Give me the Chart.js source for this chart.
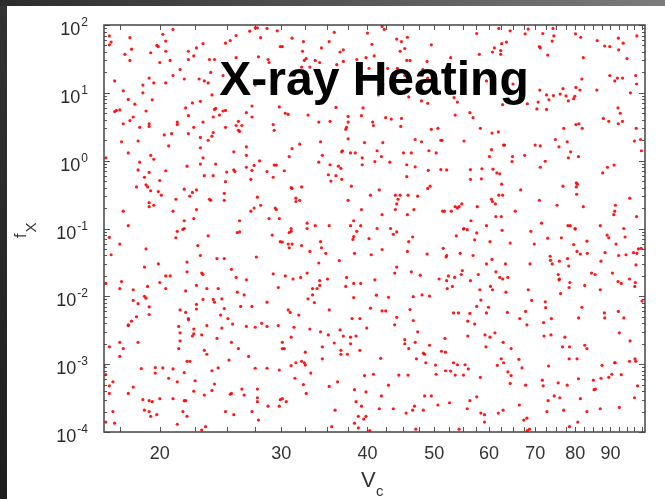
<!DOCTYPE html>
<html>
<head>
<meta charset="utf-8">
<script src="https://cdn.jsdelivr.net/npm/chart.js@4"></script>
<style>
  html, body { margin: 0; padding: 0; background: #fff; }
  #grafico { display: block; }
</style>
</head>
<body>
<canvas id="grafico" width="665" height="499"></canvas>
<script>
//---------------------- Dados -------------------------------------------------

// V_c de cada ponto
const vcValues = [
  // fx 10^-1 .. 10^2, V_c 16.6 .. 30
  20.9,16.9,17.0,16.9,18.1,20.2,20.4,19.8,19.9,18.2,
  20.4,17.8,19.4,18.1,20.0,20.7,22.0,22.4,22.6,22.0,
  23.1,23.6,24.0,24.9,25.3,25.8,27.0,27.5,27.7,28.6,
  29.6,28.0,29.9,27.8,28.7,28.8,25.8,21.4,20.9,21.7,
  19.3,19.6,18.9,18.9,20.4,22.8,23.2,23.5,23.7,24.7,
  17.2,17.7,23.8,18.0,18.4,17.2,17.3,17.5,19.1,17.7,
  18.1,18.3,18.7,19.3,19.3,19.5,21.2,21.2,21.8,22.0,
  22.3,22.9,22.4,23.1,20.3,20.8,22.0,22.9,23.9,23.8,
  23.5,24.0,23.9,24.4,24.1,24.7,24.9,24.9,25.8,26.0,
  26.3,26.0,26.1,26.7,27.2,27.2,29.2,29.3,29.8,17.6,
  18.6,18.0,20.6,22.9,25.6,26.7,26.7,19.4,19.6,16.7,
  18.7,18.6,19.3,20.4,19.0,19.1,19.2,18.5,19.4,20.0,
  19.9,20.1,21.9,23.1,22.9,24.1,23.2,23.9,25.0,25.6,
  25.7,24.9,26.7,27.4,27.9,27.2,28.6,29.3,29.5,29.2,
  27.1,21.7,22.6,22.3,22.1,21.1,23.6,23.7,24.8,24.8,
  19.3,19.3,19.6,17.7,20.9,22.6,21.7,22.4,18.0,21.7,
  26.1,27.1,27.4,28.0,27.7,29.4,29.5,28.8,29.8,27.5,
  // fx 10^-1 .. 10^2, V_c 30 .. 50
  35.8,40.0,42.0,42.3,31.1,32.3,35.2,34.3,32.2,36.9,
  36.5,44.1,44.8,45.7,45.3,44.6,40.6,49.5,30.1,32.6,
  32.4,33.6,34.1,39.8,40.9,38.6,36.9,36.1,45.6,46.1,
  48.8,32.1,33.0,40.2,42.8,44.2,48.1,45.3,45.9,48.9,
  42.1,41.5,45.9,47.9,48.9,36.0,39.4,30.4,30.7,32.8,
  37.5,39.2,42.5,43.3,44.8,34.0,35.3,37.5,40.7,40.8,
  37.3,37.2,44.7,49.5,37.5,31.9,34.2,39.6,42.1,46.9,
  47.9,31.1,36.7,36.8,37.8,38.4,41.3,45.1,46.3,49.1,
  30.8,34.4,34.0,35.3,36.3,36.6,39.3,39.3,41.9,41.0,
  43.1,45.6,46.9,30.3,35.1,36.0,35.4,36.7,45.6,49.0,
  32.1,31.0,31.1,37.9,41.6,48.9,49.3,31.5,31.9,31.5,
  37.5,40.4,43.9,44.6,44.3,44.1,43.9,45.8,47.3,39.2,
  46.7,42.0,45.7,38.2,37.8,39.1,32.7,32.7,33.6,35.2,
  31.0,41.3,43.2,
  // fx 10^-1 .. 10^2, V_c 50 .. 100
  57.6,62.0,64.4,67.7,68.4,71.8,74.3,74.5,74.1,80.1,
  81.5,86.1,92.4,93.9,98.3,88.3,89.8,92.5,95.1,71.0,
  71.2,73.0,63.6,62.6,61.1,62.4,60.7,62.4,58.1,52.8,
  82.2,59.5,81.8,89.8,91.3,92.1,93.7,97.9,98.2,96.2,
  86.0,65.0,71.1,72.7,74.4,76.1,76.8,77.6,78.2,79.6,
  80.2,81.3,79.9,73.3,70.7,68.2,70.4,72.7,62.8,53.4,
  54.0,56.3,56.9,53.6,92.3,93.0,87.9,89.5,93.7,92.4,
  50.6,58.3,60.6,61.9,77.0,80.2,81.0,81.9,98.1,51.1,
  51.3,55.2,63.0,63.2,60.5,60.1,70.0,71.2,74.9,75.8,
  77.9,78.8,78.2,67.6,64.9,64.8,72.4,80.9,97.5,99.5,
  99.8,50.3,51.1,52.1,56.4,58.6,60.8,61.6,62.2,56.4,
  58.5,62.6,66.7,71.2,76.8,80.3,80.6,80.3,80.4,87.7,
  89.1,91.1,62.0,62.8,60.5,60.7,61.3,71.0,75.3,82.2,
  91.5,91.3,91.0,96.0,53.6,54.3,54.0,54.8,51.4,51.7,
  52.9,57.7,65.5,61.4,62.5,56.5,59.5,71.5,78.1,78.7,
  87.0,94.1,98.2,80.0,55.2,
  // fx 10^-4 .. 10^-1, V_c 16.6 .. 30
  16.9,17.5,17.0,21.2,21.1,21.6,23.5,25.9,26.1,29.1,
  29.9,19.1,22.7,22.9,19.9,19.0,21.9,21.9,23.0,23.1,
  24.2,24.8,25.4,27.6,29.2,25.8,26.7,20.4,20.7,20.0,
  17.6,17.5,18.3,19.2,20.4,21.8,22.6,23.4,24.3,25.9,
  26.5,29.7,16.7,18.3,18.6,19.0,19.1,19.3,19.3,18.5,
  18.2,18.0,18.0,21.4,21.8,22.0,22.0,22.6,22.6,23.1,
  23.9,24.0,24.6,24.8,24.5,25.1,25.5,24.6,23.4,21.3,
  22.4,22.4,22.3,23.0,21.4,24.2,26.2,27.2,28.6,29.7,
  28.6,28.1,27.5,26.7,16.9,17.5,17.7,17.5,18.6,21.3,
  21.4,23.2,23.4,25.4,26.0,26.9,25.2,21.9,22.1,16.6,
  18.8,19.7,19.7,20.2,20.9,21.7,23.8,24.3,27.5,28.6,
  29.8,16.7,17.1,16.9,16.9,18.3,18.0,20.6,21.2,22.5,
  22.4,23.2,23.8,24.0,25.3,25.4,26.3,26.5,27.7,27.7,
  27.7,29.9,18.9,19.3,19.5,20.0,20.9,21.7,21.8,19.0,
  19.3,19.4,19.8,21.6,21.9,17.1,17.2,16.7,21.2,23.0,
  23.3,24.9,25.6,27.2,27.8,28.7,29.8,
  // fx 10^-4 .. 10^-1, V_c 30 .. 50
  30.8,31.0,30.1,30.7,30.8,31.1,32.1,34.2,34.3,33.0,
  34.8,34.0,36.4,38.6,38.2,38.1,40.2,38.3,40.5,42.0,
  43.6,44.1,46.5,45.9,45.7,48.8,44.1,43.8,46.3,47.7,
  30.4,31.2,32.0,32.7,34.1,35.0,37.3,39.1,38.2,37.2,
  41.0,34.1,33.8,33.3,33.3,32.8,33.5,38.2,41.2,42.9,
  46.6,48.0,49.2,40.4,42.0,42.5,46.1,35.2,30.7,30.9,
  31.8,38.0,39.0,44.1,46.6,43.8,39.9,36.5,31.3,33.0,
  31.0,34.2,35.1,35.8,36.9,37.8,38.5,37.8,47.3,45.3,
  45.3,46.9,45.9,49.2,30.1,30.1,30.3,34.4,36.6,36.6,
  37.4,39.0,32.5,31.5,32.4,32.1,31.0,32.5,34.4,41.8,
  47.1,48.4,48.2,48.6,33.1,31.4,39.6,40.8,44.4,45.8,
  32.3,32.6,35.2,36.2,42.9,38.3,39.8,41.9,49.5,48.4,
  30.1,30.5,38.5,39.2,41.6,43.6,45.5,46.5,46.8,48.2,
  35.9,38.8,39.5,39.8,38.3,38.8,35.5,40.3,47.0,
  // fx 10^-4 .. 10^-1, V_c 50 .. 100
  55.1,55.8,53.8,57.6,57.2,62.7,69.0,60.2,64.4,69.8,
  73.0,76.4,80.0,89.0,89.5,94.5,83.2,79.6,80.5,81.4,
  83.3,88.4,91.7,92.5,94.8,97.2,98.8,98.3,99.7,51.5,
  52.1,52.0,54.5,56.9,60.6,59.5,63.4,68.8,73.6,73.7,
  74.1,75.9,78.0,78.3,87.2,98.0,50.8,52.4,52.1,53.5,
  52.2,53.1,54.7,54.9,56.4,57.9,60.3,60.7,61.4,62.2,
  62.8,63.9,63.5,58.2,68.4,69.2,75.6,75.9,75.8,78.6,
  78.4,76.2,82.6,84.5,85.5,87.0,90.6,92.3,93.3,95.9,
  97.6,97.8,100,58.4,57.6,56.3,53.3,54.2,55.9,59.5,
  59.9,63.8,66.5,67.8,68.1,72.4,72.5,72.0,73.9,80.9,
  81.8,88.2,88.3,92.4,94.1,92.7,96.1,57.2,55.9,59.2,
  60.2,61.2,59.4,62.9,64.6,72.1,73.8,77.3,76.7,78.5,
  82.6,83.2,51.8,51.2,51.9,62.5,78.4,80.5,91.4,95.9,
  97.7,97.9,50.2,50.3,53.3,54.0,55.4,56.0,51.9,52.8,
  53.6,55.1,58.3,61.7,63.0,63.9,64.6,64.4,66.3,67.0,
  67.8,71.7,71.9,73.2,75.6,77.9,80.9,85.0,85.6,85.2,
  87.2,87.5,89.5,90.4,93.3,91.3,98.5,50.6,52.6,55.8,
  56.3,57.6,58.4,59.1,59.1,61.9,62.9,66.4,67.4,68.1,
  68.7,68.2,73.1,72.8,74.6,76.0,77.0,81.4,83.2,87.0,
  92.7,97.5,78.5,80.7,54.3
];

// f_X de cada ponto (mesma ordem)
const fxValues = [
  86,69,56,51,65,73,58,50,48,44,
  41,37,39,30,28,30,41,35,46,31,
  53,31,31,54,59,70,81,91,91,89,
  82,65,48,34,31,28,33,22,18,16,
  16.5,14,13,10,14,16,15,14,20,18,
  15,10.7,9.3,8.0,6.8,5.3,5.5,5.6,5.4,3.5,
  3.9,4.4,3.1,3.5,3.2,7.9,3.7,3.4,6.0,4.6,
  7.1,7.5,3.1,3.7,2.4,2.5,2.5,2.2,2.6,2.3,
  2.0,5.7,4.4,4.7,5.9,5.4,5.5,3.1,3.3,3.8,
  3.3,2.8,2.7,5.1,6.4,4.4,3.4,2.8,6.2,1.9,
  1.95,1.3,1.65,1.55,1.35,1.6,1.2,1.2,1.05,1.1,
  0.95,0.73,0.67,0.71,0.57,0.44,0.41,0.41,0.36,0.51,
  0.35,0.31,0.83,1.1,0.89,0.89,0.60,0.60,0.68,0.73,
  0.69,0.49,0.80,0.85,0.99,0.72,0.69,0.86,0.86,0.57,
  0.53,0.38,0.37,0.34,0.30,0.27,0.27,0.26,0.33,0.26,
  0.24,0.21,0.22,0.18,0.18,0.19,0.13,0.14,0.11,0.10,
  0.13,0.18,0.20,0.22,0.29,0.20,0.19,0.14,0.14,13,

  78,76,95,86,64,57,57,46,41,43,
  40,62,57,66,45,41,52,51,48,32,
  30,30,28,33,35,31,29,26,30,30,
  29,24,24,23,23,23,22,18,18,16.5,
  13.5,9.3,8.7,7.6,7.0,6.1,6.0,5.0,4.8,4.7,
  4.5,4.6,4.3,4.1,4.2,3.7,3.8,3.7,3.7,3.3,
  3.1,2.9,3.2,2.9,2.1,1.75,1.9,1.85,1.85,2.05,
  1.9,1.5,1.35,1.4,1.3,1.3,1.4,1.3,1.3,1.4,
  1.15,1.2,0.95,0.87,0.83,0.77,1.1,0.87,1.15,0.97,
  0.95,0.87,0.81,0.71,0.62,0.60,0.50,0.53,0.58,0.72,
  0.41,0.40,0.39,0.42,0.37,0.39,0.42,0.28,0.26,0.25,
  0.26,0.31,0.31,0.31,0.27,0.23,0.19,0.31,0.30,0.19,
  0.19,0.16,0.16,0.13,0.11,0.11,0.12,0.10,0.11,0.11,
  0.10,0.10,0.10,

  75,89,82,74,87,75,89,69,58,74,
  66,59,64,54,69,49,48,43,32,48,
  46,36,56,53,46,42,40,37,37,33,
  33,15,16,18,15,16.5,16.5,18,13.5,10,
  11,13.5,11,9.3,9.1,9.6,11.5,9.0,7.6,8.2,
  12,11,8.9,7.9,7.3,6.9,5.8,5.7,6.7,8.5,
  7.3,5.1,4.3,4.7,6.0,5.0,4.2,3.8,3.8,3.5,
  3.0,3.0,2.55,2.65,3.0,3.4,3.5,3.0,3.0,2.0,
  2.0,1.95,1.7,1.7,1.45,1.15,1.7,1.65,2.05,1.6,
  1.9,1.35,1.1,1.2,1.15,0.97,0.98,1.15,1.95,2.05,
  1.4,1.3,0.74,0.73,0.74,0.76,0.75,0.66,0.64,0.53,
  0.54,0.45,0.37,0.80,0.42,0.47,0.45,0.41,0.32,0.66,
  0.80,0.86,0.31,0.31,0.27,0.25,0.23,0.26,0.22,0.21,
  0.22,0.18,0.16,0.28,0.21,0.21,0.20,0.23,0.18,0.18,
  0.18,0.21,0.18,0.15,0.15,0.13,0.11,0.12,0.11,0.11,
  0.11,0.10,0.15,0.10,0.10,

  0.074,0.059,0.041,0.091,0.073,0.097,0.078,0.087,0.089,0.080,
  0.064,0.050,0.056,0.040,0.030,0.027,0.032,0.023,0.022,0.021,
  0.036,0.036,0.025,0.038,0.0215,0.019,0.0175,0.020,0.020,0.016,
  0.0165,0.013,0.0125,0.014,0.013,0.012,0.0145,0.013,0.013,0.0115,
  0.0105,0.0135,0.0155,0.0087,0.0078,0.010,0.0094,0.0070,0.0054,0.0050,
  0.0043,0.0038,0.0037,0.0063,0.0058,0.0047,0.0045,0.0076,0.0065,0.0090,
  0.0090,0.0082,0.0092,0.0066,0.0053,0.0047,0.0039,0.0034,0.0037,0.0036,
  0.0033,0.0028,0.0026,0.0027,0.0029,0.0024,0.0071,0.0071,0.0082,0.0037,
  0.0036,0.0040,0.0035,0.0036,0.0018,0.0021,0.0017,0.0013,0.0021,0.0017,
  0.0022,0.0016,0.0014,0.0021,0.0017,0.0013,0.00115,0.0011,0.0011,0.00095,
  0.00086,0.00089,0.00074,0.00088,0.00085,0.00075,0.00080,0.00088,0.00087,0.00087,
  0.00082,0.00070,0.00055,0.00048,0.00037,0.00046,0.00037,0.00062,0.00055,0.00057,
  0.00040,0.00035,0.00041,0.00051,0.00036,0.00037,0.00043,0.00035,0.00043,0.00032,
  0.00028,0.00030,0.00030,0.00029,0.00028,0.00031,0.00031,0.00029,0.00029,0.00021,
  0.00020,0.00017,0.00018,0.00020,0.00017,0.00020,0.000135,0.00014,0.00013,0.000107,
  0.00012,0.00020,0.00018,0.00020,0.00015,0.00024,0.00024,

  0.087,0.091,0.063,0.059,0.052,0.059,0.056,0.064,0.052,0.046,
  0.043,0.031,0.0335,0.091,0.076,0.069,0.071,0.043,0.041,0.049,
  0.082,0.089,0.075,0.064,0.046,0.042,0.027,0.022,0.023,0.0205,
  0.020,0.018,0.019,0.022,0.017,0.018,0.019,0.0155,0.0155,0.014,
  0.0175,0.0145,0.013,0.013,0.0105,0.0092,0.0081,0.0096,0.0104,0.0097,
  0.0099,0.0105,0.0101,0.0067,0.0061,0.0061,0.0064,0.0063,0.0063,0.0058,
  0.0053,0.0047,0.0047,0.0049,0.0044,0.0038,0.0034,0.0032,0.0035,0.0033,
  0.0025,0.0030,0.0027,0.00205,0.0026,0.0025,0.0026,0.0020,0.0030,0.0023,
  0.0020,0.0021,0.0017,0.0019,0.0021,0.0017,0.0017,0.0018,0.0016,0.0014,
  0.0014,0.0016,0.0015,0.00105,0.00105,0.0011,0.00095,0.00097,0.0012,0.00122,
  0.0012,0.0014,0.00145,0.00105,0.00074,0.00062,0.00068,0.00071,0.00069,0.00069,
  0.00050,0.00037,0.00047,0.00055,0.00049,0.00042,0.00039,0.00034,0.00034,0.00034,
  0.00031,0.00028,0.00028,0.00024,0.00022,0.00022,0.00019,0.00021,0.00024,0.00021,
  0.00021,0.00017,0.000155,0.00017,0.000135,0.000115,0.00012,0.000105,0.00011,

  0.098,0.096,0.078,0.086,0.068,0.094,0.091,0.064,0.061,0.059,
  0.072,0.073,0.098,0.080,0.073,0.075,0.065,0.058,0.046,0.042,
  0.043,0.044,0.059,0.040,0.041,0.044,0.050,0.043,0.051,0.051,
  0.040,0.038,0.043,0.040,0.035,0.030,0.030,0.030,0.039,0.034,
  0.030,0.033,0.036,0.028,0.033,0.029,0.018,0.020,0.017,0.019,
  0.013,0.014,0.021,0.024,0.017,0.021,0.014,0.0125,0.023,0.019,
  0.018,0.019,0.0115,0.0125,0.0125,0.0087,0.021,0.018,0.0175,0.016,
  0.0135,0.011,0.0145,0.022,0.021,0.0125,0.022,0.0165,0.0155,0.018,
  0.014,0.016,0.0085,0.0088,0.0071,0.0056,0.0057,0.0057,0.0043,0.0057,
  0.0069,0.0058,0.0047,0.0060,0.0038,0.0083,0.0068,0.0041,0.0047,0.0048,
  0.0069,0.0057,0.0048,0.0060,0.0048,0.0029,0.0022,0.0039,0.0026,0.0027,
  0.0025,0.0029,0.0018,0.0021,0.0017,0.0026,0.0027,0.0025,0.0018,0.0018,
  0.0019,0.0017,0.0024,0.00155,0.0015,0.0012,0.0012,0.0012,0.00105,0.0011,
  0.0012,0.0011,0.00097,0.00071,0.00105,0.00098,0.00098,0.00085,0.00080,0.00079,
  0.00069,0.00069,0.00064,0.00096,0.00105,0.00077,0.00068,0.00052,0.00118,0.00088,
  0.00049,0.00058,0.00048,0.00094,0.00053,0.00049,0.00061,0.00058,0.00043,0.00042,
  0.00062,0.00096,0.00064,0.00071,0.00070,0.00105,0.00048,0.00025,0.00027,0.00022,
  0.00029,0.00033,0.00019,0.00018,0.00014,0.00019,0.00021,0.00025,0.00015,0.00016,
  0.00011,0.000105,0.00029,0.00020,0.00034,0.00032,0.00021,0.00031,0.00020,0.00022,
  0.00023,0.00032,0.00012,0.00014,0.00011
];

// eixo x: marcas (a cada 2.5) e rótulos
const xTickValues = [17.5,20,22.5,25,27.5,30,32.5,35,37.5,40,42.5,45,47.5,50,52.5,55,57.5,60,62.5,65,67.5,70,72.5,75,77.5,80,82.5,85,87.5,90,92.5,95,97.5,100];
const xTickLabels = [20,30,40,50,60,70,80,90];

// eixo y: décadas e expoentes
const yDecades = [1e-4,1e-3,1e-2,1e-1,1e0,1e1,1e2];
const yExponents = ['-4','-3','-2','-1','0','1','2'];
const yMinorSteps = [2,3,4,5,6,7,8,9];

const FONTE = '"Liberation Sans", Arial, Helvetica, sans-serif';
Chart.defaults.font.family = FONTE;

//---------------------- Plugins de desenho ------------------------------

// fundo escuro da captura + área branca
const fundo = {
  id: 'fundo',
  beforeDraw(chart) {
    const c = chart.ctx, w = chart.width, h = chart.height;
    c.save();
    const gTopo = c.createLinearGradient(0, 0, w, 0);
    gTopo.addColorStop(0, '#2c2c2c');
    gTopo.addColorStop(1, '#7c7c7c');
    c.fillStyle = gTopo;
    c.fillRect(0, 0, w, h);
    const gLado = c.createLinearGradient(0, 0, 0, h);
    gLado.addColorStop(0, '#333333');
    gLado.addColorStop(1, '#1e1e1e');
    c.fillStyle = gLado;
    c.fillRect(0, 6, 7, h - 6);
    c.fillStyle = '#ffffff';
    c.fillRect(7, 6, w - 7, h - 6);
    c.restore();
  }
};

// moldura, marcas internas, rótulos do eixo y, títulos dos eixos e título
const moldura = {
  id: 'moldura',
  afterDatasetsDraw(chart) {
    const { ctx, chartArea: a, scales: { x, y } } = chart;
    ctx.save();

    // marcas
    ctx.strokeStyle = '#555';
    ctx.lineWidth = 1;
    ctx.beginPath();
    xTickValues.forEach(v => {
      const px = Math.round(x.getPixelForValue(v)) + 0.5;
      ctx.moveTo(px, a.bottom); ctx.lineTo(px, a.bottom - 5);
      ctx.moveTo(px, a.top); ctx.lineTo(px, a.top + 5);
    });
    yDecades.forEach(d => {
      const py = Math.round(y.getPixelForValue(d)) + 0.5;
      ctx.moveTo(a.left, py); ctx.lineTo(a.left + 6, py);
      ctx.moveTo(a.right, py); ctx.lineTo(a.right - 6, py);
      if (d < 100) {
        yMinorSteps.forEach(m => {
          const pm = Math.round(y.getPixelForValue(d * m)) + 0.5;
          ctx.moveTo(a.left, pm); ctx.lineTo(a.left + 3, pm);
          ctx.moveTo(a.right, pm); ctx.lineTo(a.right - 3, pm);
        });
      }
    });
    ctx.stroke();

    ctx.strokeStyle = '#444';
    ctx.lineWidth = 1.5;
    ctx.strokeRect(a.left, a.top, a.right - a.left, a.bottom - a.top);

    // rótulos y: 10 com expoente
    ctx.fillStyle = '#2a2a2a';
    ctx.textBaseline = 'alphabetic';
    ctx.textAlign = 'left';
    yDecades.forEach((d, i) => {
      const py = y.getPixelForValue(d);
      ctx.font = '12px ' + FONTE;
      const we = ctx.measureText(yExponents[i]).width;
      ctx.font = '18px ' + FONTE;
      const wb = ctx.measureText('10').width;
      const xe = a.left - 16 - we;
      ctx.fillText('10', xe - wb - 1, py + 10);
      ctx.font = '12px ' + FONTE;
      ctx.fillText(yExponents[i], xe, py + 1);
    });

    // título do eixo x: V_c
    ctx.fillStyle = '#333';
    ctx.font = '22px ' + FONTE;
    ctx.fillText('V', 361, 487);
    ctx.font = '15px ' + FONTE;
    ctx.fillText('c', 376, 496);

    // título do eixo y: f_X (girado)
    ctx.save();
    ctx.translate(26, 238);
    ctx.rotate(-Math.PI / 2);
    ctx.font = '16px ' + FONTE;
    ctx.fillText('f', 0, 0);
    const wf = ctx.measureText('f').width;
    ctx.font = '15px ' + FONTE;
    ctx.fillText('X', wf + 1, 10);
    ctx.restore();

    // título dentro do gráfico
    ctx.fillStyle = '#000';
    ctx.textAlign = 'center';
    ctx.font = 'bold 48px ' + FONTE;
    ctx.fillText('X-ray Heating', 374, 95);

    ctx.restore();
  }
};

//---------------------- Gráfico de dispersão ------------------------------

const pontos = vcValues.map((v, i) => ({ x: v, y: fxValues[i] }));

let dispersao = new Chart(document.getElementById('grafico'), {
  type: 'scatter',
  data: {
    datasets: [{
      label: 'X-ray Heating',
      data: pontos,
      backgroundColor: 'rgba(255,0,0,0.9)',
      borderWidth: 0,
      pointRadius: 1.6,
      pointHoverRadius: 1.6
    }]
  },
  options: {
    responsive: false,
    animation: false,
    devicePixelRatio: 1,
    layout: { padding: { left: 0, right: 20, top: 25, bottom: 0 } },
    plugins: {
      legend: { display: false },
      tooltip: { enabled: false },
      title: { display: false }
    },
    scales: {
      x: {
        type: 'logarithmic',
        min: 16.6,
        max: 101,
        afterBuildTicks: s => { s.ticks = xTickValues.map(v => ({ value: v })); },
        afterFit: s => { s.height = 67; },
        grid: { display: false, drawTicks: false },
        border: { display: false },
        ticks: {
          autoSkip: false,
          maxRotation: 0,
          padding: 11,
          color: '#333',
          font: { size: 18 },
          callback: v => xTickLabels.includes(v) ? String(v) : ''
        }
      },
      y: {
        type: 'logarithmic',
        min: 1e-4,
        max: 100,
        afterFit: s => { s.width = 104; },
        grid: { display: false, drawTicks: false },
        border: { display: false },
        ticks: { display: false }
      }
    }
  },
  plugins: [fundo, moldura]
});
</script>
</body>
</html>
